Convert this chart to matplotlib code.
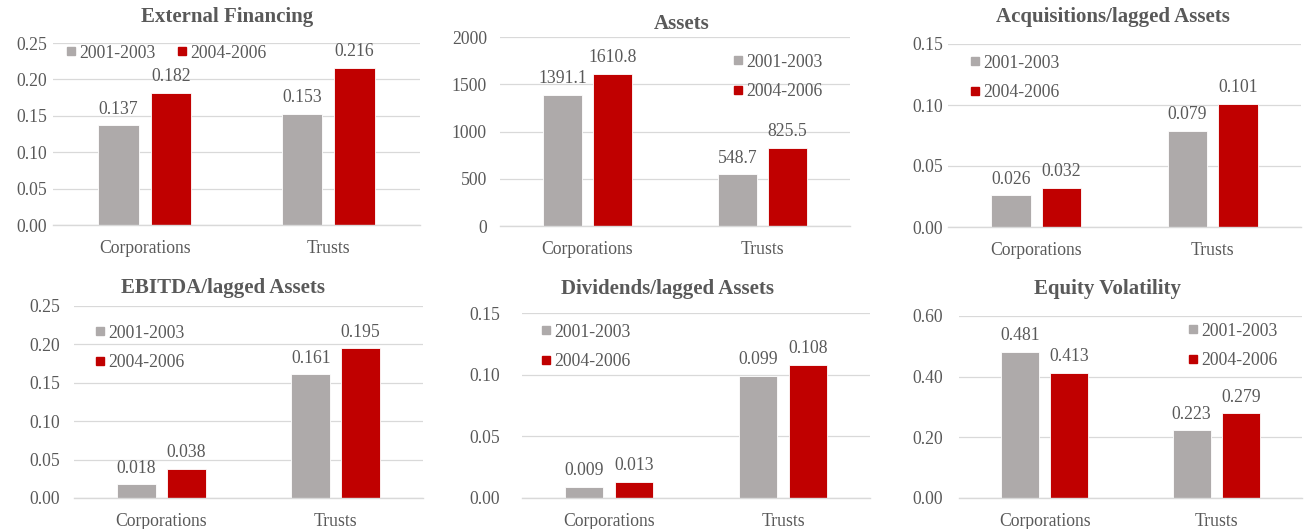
import matplotlib
matplotlib.use("Agg")
import matplotlib.pyplot as plt
from matplotlib.lines import Line2D
import numpy as np

# ---------------- data ----------------
categories = ["Corporations", "Trusts"]
series_names = ["2001-2003", "2004-2006"]

titles = ["External Financing", "Assets", "Acquisitions/lagged Assets",
          "EBITDA/lagged Assets", "Dividends/lagged Assets", "Equity Volatility"]

ext_fin_0103 = [0.137, 0.153]
ext_fin_0406 = [0.182, 0.216]
assets_0103 = [1391.1, 548.7]
assets_0406 = [1610.8, 825.5]
acq_0103 = [0.026, 0.079]
acq_0406 = [0.032, 0.101]
ebitda_0103 = [0.018, 0.161]
ebitda_0406 = [0.038, 0.195]
div_0103 = [0.009, 0.099]
div_0406 = [0.013, 0.108]
vol_0103 = [0.481, 0.223]
vol_0406 = [0.413, 0.279]

ticks_ext = [0.00, 0.05, 0.10, 0.15, 0.20, 0.25]
ticks_assets = [0, 500, 1000, 1500, 2000]
ticks_acq = [0.00, 0.05, 0.10, 0.15]
ticks_ebitda = [0.00, 0.05, 0.10, 0.15, 0.20, 0.25]
ticks_div = [0.00, 0.05, 0.10, 0.15]
ticks_vol = [0.00, 0.20, 0.40, 0.60]

panel_series = [(ext_fin_0103, ext_fin_0406), (assets_0103, assets_0406),
                (acq_0103, acq_0406), (ebitda_0103, ebitda_0406),
                (div_0103, div_0406), (vol_0103, vol_0406)]
panel_ticks = [ticks_ext, ticks_assets, ticks_acq, ticks_ebitda, ticks_div, ticks_vol]
value_fmt = ["{:.3f}", "{:.1f}", "{:.3f}", "{:.3f}", "{:.3f}", "{:.3f}"]
tick_fmt = ["{:.2f}", "{:.0f}", "{:.2f}", "{:.2f}", "{:.2f}", "{:.2f}"]

# ---------------- style / layout ----------------
W, H = 1306, 529
GRAY = "#AEAAAA"
RED = "#C00000"
TXT = "#595959"
GRID = "#D9D9D9"
FS = 12.7
TFS = 15
plt.rcParams["font.family"] = ["Liberation Serif", "DejaVu Serif"]

# left, right, top, bottom (pixels), title xy, ytick pad px, legend (x, y, horizontal)
layout = [
    dict(l=53, r=420, t=43, b=225, tx=227, ty=17, pad=6, leg=(66, 53, True)),
    dict(l=500, r=850, t=37, b=226, tx=682, ty=24, pad=13, leg=(733, 77, False)),
    dict(l=948, r=1301, t=44, b=227, tx=1113, ty=17, pad=5, leg=(970, 78, False)),
    dict(l=74, r=423, t=306, b=498, tx=223, ty=288, pad=14, leg=(95, 348, False)),
    dict(l=522, r=870, t=313, b=498, tx=667, ty=289, pad=22, leg=(541, 347, False)),
    dict(l=959, r=1302, t=316, b=498, tx=1107, ty=289, pad=16, leg=(1188, 346, False)),
]

fig = plt.figure(figsize=(W / 100, H / 100), dpi=100)
x = np.arange(len(categories))
bw = 0.222
off = 0.143
px2pt = 72 / 100

for i, spec in enumerate(layout):
    ax = fig.add_axes([spec["l"] / W, 1 - spec["b"] / H,
                       (spec["r"] - spec["l"]) / W, (spec["b"] - spec["t"]) / H])
    s1, s2 = panel_series[i]
    b1 = ax.bar(x - off, s1, bw, color=GRAY, edgecolor="white", linewidth=0.6, zorder=3)
    b2 = ax.bar(x + off, s2, bw, color=RED, edgecolor="white", linewidth=0.6, zorder=3)
    for bars, vals in ((b1, s1), (b2, s2)):
        for rect, v in zip(bars, vals):
            ax.annotate(value_fmt[i].format(v),
                        (rect.get_x() + rect.get_width() / 2, rect.get_height()),
                        xytext=(0, 5.5), textcoords="offset points",
                        ha="center", va="bottom", fontsize=FS, color=TXT)
    ticks = panel_ticks[i]
    ax.set_ylim(ticks[0], ticks[-1])
    ax.set_yticks(ticks)
    ax.set_yticklabels([tick_fmt[i].format(t) for t in ticks])
    ax.set_xlim(-0.5, 1.5)
    ax.set_xticks(x)
    ax.set_xticklabels(categories)
    ax.tick_params(axis="y", length=0, pad=spec["pad"] * px2pt, labelsize=FS, labelcolor=TXT)
    ax.tick_params(axis="x", length=0, pad=10.5, labelsize=FS, labelcolor=TXT)
    ax.grid(axis="y", color=GRID, linewidth=0.9, zorder=0)
    ax.set_axisbelow(True)
    for side in ("left", "right", "top"):
        ax.spines[side].set_visible(False)
    ax.spines["bottom"].set_color(GRID)
    ax.spines["bottom"].set_linewidth(1.0)
    ax.spines["bottom"].set_zorder(4)

    fig.text(spec["tx"] / W, 1 - spec["ty"] / H, titles[i], ha="center", va="center",
             fontsize=TFS, fontweight="bold", color=TXT)

    lx, ly, horiz = spec["leg"]
    handles = [Line2D([], [], marker="s", ls="", color=c, markersize=6)
               for c in (GRAY, RED)]
    ax.legend(handles, series_names, loc="center left",
              bbox_to_anchor=(lx / W, 1 - ly / H),
              bbox_transform=fig.transFigure,
              ncol=2 if horiz else 1, frameon=False, fontsize=FS,
              handlelength=0.6, handletextpad=0.15, borderpad=0,
              borderaxespad=0, columnspacing=1.2, labelspacing=0.72,
              labelcolor=TXT)

fig.savefig("out.png", dpi=100, facecolor="white")
